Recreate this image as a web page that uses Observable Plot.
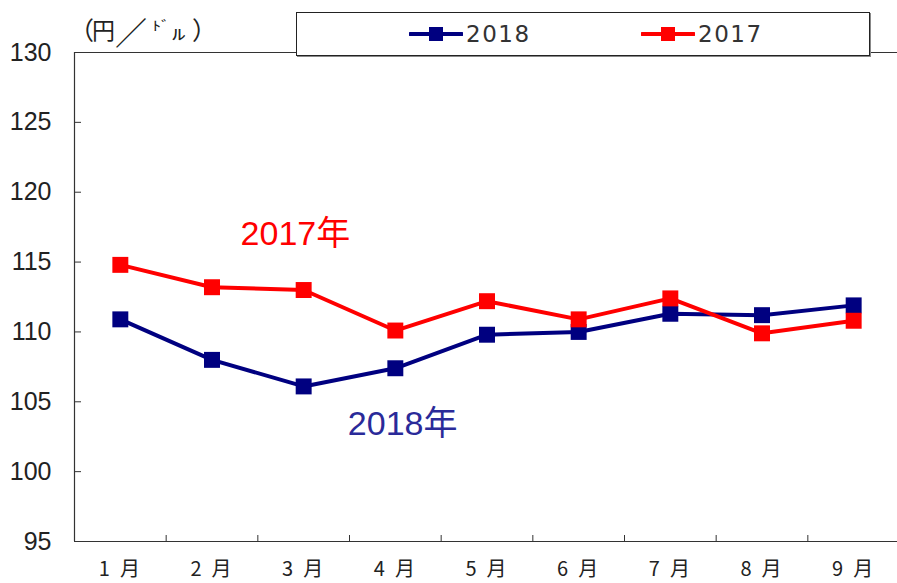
<!DOCTYPE html>
<html><head><meta charset="utf-8">
<script src="https://cdn.jsdelivr.net/npm/d3@7"></script>
<script src="https://cdn.jsdelivr.net/npm/@observablehq/plot@0.6"></script>
<style>
body{margin:0;background:#fff;}
#wrap{position:relative;width:897px;height:583px;overflow:hidden;background:#fff;}
#chart{position:absolute;left:0;top:0;}
#unit{position:absolute;left:0;top:0;width:230px;height:50px;font-family:"Noto Sans CJK JP",sans-serif;color:#222;}
#unit span{position:absolute;line-height:1;white-space:nowrap;}
#legend{position:absolute;left:296px;top:12px;width:572px;height:42px;border:1.5px solid #222;background:#fff;box-shadow:1px 1px 0 #888;}
.item{position:absolute;top:0;height:42px;display:flex;align-items:center;}
.item span{font-family:"DejaVu Sans",sans-serif;font-size:23px;color:#333;letter-spacing:1.5px;margin-left:3px;}
</style></head><body>
<div id="wrap">
  <div id="chart"></div>
  <div id="unit"><span style="left:69px;top:17px;font-size:25px">（</span><span style="left:92px;top:18px;font-size:23px">円</span><span style="left:115px;top:15px;font-size:32px">／</span><span style="left:152px;top:18px;font-size:13px;display:inline-block;transform:scaleX(1.4);transform-origin:left top">ﾄﾞ</span><span style="left:172px;top:26px;font-size:15px;display:inline-block;transform:scaleX(1.8);transform-origin:left top">ﾙ</span><span style="left:192px;top:17px;font-size:25px">）</span></div>
  <div id="legend"></div>
</div>
<script>
const months = ["1月","2月","3月","4月","5月","6月","7月","8月","9月"];
const seriesNames = ["2018","2017"];
const usdjpy2018 = [110.9, 108.0, 106.1, 107.4, 109.8, 110.0, 111.3, 111.2, 111.9];
const usdjpy2017 = [114.8, 113.2, 113.0, 110.1, 112.2, 110.9, 112.4, 109.9, 110.8];
const yTicks = [95, 100, 105, 110, 115, 120, 125, 130];
const annotationTexts = ["2017年", "2018年"];

const colors = {"2018": "#000080", "2017": "#ff0000"};
const idx = months.map((m, i) => i + 1);
const bounds = months.slice(1).map((m, i) => i + 1.5);
const data = [];
seriesNames.forEach(s => {
  const vals = s === "2018" ? usdjpy2018 : usdjpy2017;
  vals.forEach((v, i) => data.push({series: s, month: i + 1, value: v}));
});
const d2018 = data.filter(d => d.series === "2018");
const d2017 = data.filter(d => d.series === "2017");

const chart = Plot.plot({
  width: 897,
  height: 583,
  marginLeft: 74,
  marginTop: 52,
  marginBottom: 42,
  marginRight: 0,
  style: {background: "transparent", overflow: "visible"},
  x: {domain: [0.5, 9.5], range: [74, 899], axis: null, label: null},
  y: {domain: [95, 130], axis: null, label: null},
  marks: [
    Plot.ruleY([95, 130], {stroke: "#333", strokeWidth: 1.2}),
    Plot.ruleX([0.5], {stroke: "#333", strokeWidth: 1.2}),
    Plot.axisY(yTicks, {anchor: "left", label: null, tickSize: -7, tickFormat: () => "", stroke: "#333"}),
    Plot.axisY(yTicks, {anchor: "left", label: null, tickSize: 0, tickPadding: 23, fontSize: 25, fontFamily: "Liberation Sans, Arial, sans-serif", fill: "#222"}),
    Plot.axisX(bounds, {anchor: "bottom", label: null, tickSize: -6, tickFormat: () => "", stroke: "#333"}),
    Plot.axisX(idx, {anchor: "bottom", label: null, tickSize: 0, tickPadding: 20, dx: 4, tickFormat: i => months[i - 1], fontSize: 20, fontFamily: "Noto Sans CJK JP, sans-serif", fill: "#222"}),
    Plot.line(d2018, {x: "month", y: "value", stroke: colors["2018"], strokeWidth: 4}),
    Plot.dot(d2018, {x: "month", y: "value", symbol: "square", r: 9, fill: colors["2018"], stroke: "none"}),
    Plot.line(d2017, {x: "month", y: "value", stroke: colors["2017"], strokeWidth: 4}),
    Plot.dot(d2017, {x: "month", y: "value", symbol: "square", r: 9, fill: colors["2017"], stroke: "none"}),
    Plot.text([annotationTexts[0]], {x: 2.91, y: 117.0, text: d => d, fill: "#ff0000", fontSize: 34, fontFamily: "Liberation Sans, Noto Sans CJK JP, sans-serif"}),
    Plot.text([annotationTexts[1]], {x: 4.08, y: 103.4, text: d => d, fill: "#2a2a99", fontSize: 34, fontFamily: "Liberation Sans, Noto Sans CJK JP, sans-serif"})
  ]
});
d3.select(chart).selectAll("g[aria-label='x-axis tick label'] text").attr("letter-spacing", "10px");
document.getElementById("chart").appendChild(chart);

const legend = document.getElementById("legend");
const legendX = {"2018": 112, "2017": 344};
seriesNames.forEach(s => {
  const it = document.createElement("div");
  it.className = "item";
  it.style.left = legendX[s] + "px";
  it.innerHTML = `<svg width="54" height="14"><line x1="1" y1="7" x2="53" y2="7" stroke="${colors[s]}" stroke-width="4" stroke-linecap="round"/><rect x="20" y="0" width="14" height="14" fill="${colors[s]}"/></svg><span>${s}</span>`;
  legend.appendChild(it);
});
</script>
</body></html>
